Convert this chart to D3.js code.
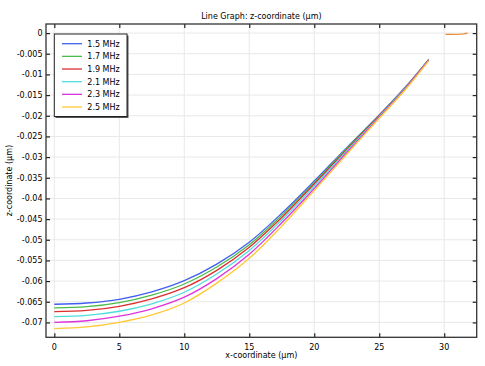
<!DOCTYPE html>
<meta charset="utf-8">
<script src="https://d3js.org/d3.v7.min.js"></script>
<style>
  body { margin: 0; background: #fff; }
  text { font-family: "DejaVu Sans", sans-serif; font-size: 8px; fill: #000; }
</style>
<div id="chart"></div>
<script>

// x positions along the line (µm)
const xs = [0, 2.5, 5, 7.5, 10, 12.5, 15, 17.5, 20, 22.5, 25, 27, 28.8];

// z-coordinate (µm) for each frequency
const z15 = [-0.0656, -0.0653, -0.0644, -0.0626, -0.0599, -0.0559, -0.0506, -0.0436, -0.0358, -0.0277, -0.0198, -0.0131, -0.0064];
const z17 = [-0.0665, -0.0662, -0.0652, -0.0634, -0.0607, -0.0566, -0.0512, -0.0441, -0.0362, -0.0279, -0.0199, -0.0132, -0.0064];
const z19 = [-0.0674, -0.0671, -0.0661, -0.0643, -0.0616, -0.0574, -0.0518, -0.0446, -0.0365, -0.0282, -0.0200, -0.0133, -0.0065];
const z21 = [-0.0686, -0.0683, -0.0673, -0.0655, -0.0627, -0.0583, -0.0526, -0.0452, -0.0370, -0.0285, -0.0202, -0.0134, -0.0066];
const z23 = [-0.0700, -0.0696, -0.0685, -0.0667, -0.0639, -0.0594, -0.0535, -0.0459, -0.0376, -0.0289, -0.0204, -0.0135, -0.0066];
const z25 = [-0.0715, -0.0711, -0.0700, -0.0682, -0.0653, -0.0605, -0.0545, -0.0467, -0.0381, -0.0293, -0.0206, -0.0137, -0.0067];

// short segment near the top right
const tipX = [30.1, 30.6, 31.2, 31.5, 31.8];
const tipZ = [-0.0003, -0.0003, -0.00025, -0.0002, 0.0];

const labels = ["1.5 MHz", "1.7 MHz", "1.9 MHz", "2.1 MHz", "2.3 MHz", "2.5 MHz"];
const colors = ["#3f5ff0", "#4cbb4c", "#dd2f2f", "#4fdede", "#dd35dd", "#ffc933"];
const seriesZ = [z15, z17, z19, z21, z23, z25];

const xTicks = [0, 5, 10, 15, 20, 25, 30];
const yTicks = [0, -0.005, -0.01, -0.015, -0.02, -0.025, -0.03, -0.035, -0.04, -0.045, -0.05, -0.055, -0.06, -0.065, -0.07];

const W = 485, H = 366;
const L = 46, R = 476.7, T = 24, B = 337.3;

const svg = d3.select("#chart").append("svg")
  .attr("width", W).attr("height", H);

const x = d3.scaleLinear().domain([-0.64, 32.5]).range([L, R]);
const y = d3.scaleLinear().domain([-0.0736, 0.0022]).range([B, T]);

// grid
const grid = svg.append("g").attr("stroke", "#e8e8e8").attr("stroke-width", 1);
grid.selectAll(".gx").data(xTicks).join("line")
  .attr("x1", d => x(d)).attr("x2", d => x(d)).attr("y1", T).attr("y2", B);
grid.selectAll(".gy").data(yTicks).join("line")
  .attr("x1", L).attr("x2", R).attr("y1", d => y(d)).attr("y2", d => y(d));

// axes with inward ticks on all sides
const fmt = d => d === 0 ? "0" : String(+d.toFixed(3));
svg.append("g").attr("transform", `translate(0,${B})`)
  .call(d3.axisTop(x).tickValues(xTicks).tickSize(4).tickFormat(""));
svg.append("g").attr("transform", `translate(0,${T})`)
  .call(d3.axisBottom(x).tickValues(xTicks).tickSize(4).tickFormat(""));
svg.append("g").attr("transform", `translate(${L},0)`)
  .call(d3.axisRight(y).tickValues(yTicks).tickSize(4).tickFormat(""));
svg.append("g").attr("transform", `translate(${R},0)`)
  .call(d3.axisLeft(y).tickValues(yTicks).tickSize(4).tickFormat(""));
svg.selectAll(".domain").remove();
svg.selectAll(".tick line").attr("stroke", "#222").attr("stroke-width", 1.2);

// tick labels
svg.selectAll(".xl").data(xTicks).join("text")
  .attr("x", d => x(d)).attr("y", 349.5)
  .attr("text-anchor", "middle").text(d => d);
svg.selectAll(".yl").data(yTicks).join("text")
  .attr("x", 42.5).attr("y", d => y(d) + 3)
  .attr("text-anchor", "end").text(fmt);

// lines
const line = d3.line().x(d => x(d[0])).y(d => y(d[1]));
seriesZ.forEach((zs, i) => {
  svg.append("path")
    .datum(xs.map((v, j) => [v, zs[j]]))
    .attr("d", line.curve(d3.curveCatmullRom.alpha(0.5)))
    .attr("fill", "none")
    .attr("stroke", colors[i])
    .attr("stroke-width", 1.3);
});
svg.append("path")
  .datum(tipX.map((v, j) => [v, tipZ[j]]))
  .attr("d", line.curve(d3.curveLinear))
  .attr("fill", "none")
  .attr("stroke", "#e88a2a")
  .attr("stroke-width", 1.3);

// frame
svg.append("rect")
  .attr("x", L).attr("y", T).attr("width", R - L).attr("height", B - T)
  .attr("fill", "none").attr("stroke", "#333").attr("stroke-width", 1.3);

// legend
const lg = svg.append("g");
lg.append("rect").attr("x", 55.5).attr("y", 35.5).attr("width", 73).attr("height", 82.5)
  .attr("fill", "#555");
lg.append("rect").attr("x", 54.3).attr("y", 34).attr("width", 72.7).attr("height", 82.5)
  .attr("fill", "#fff").attr("stroke", "#222").attr("stroke-width", 1);
labels.forEach((t, i) => {
  const cy = 43.7 + i * 12.66;
  lg.append("line").attr("x1", 62).attr("x2", 82).attr("y1", cy).attr("y2", cy)
    .attr("stroke", colors[i]).attr("stroke-width", 1.3);
  lg.append("text").attr("x", 87.3).attr("y", cy + 3).text(t);
});

// titles
svg.append("text").attr("x", (L + R) / 2).attr("y", 18.5)
  .attr("text-anchor", "middle").text("Line Graph: z-coordinate (µm)");
svg.append("text").attr("x", (L + R) / 2).attr("y", 357.5)
  .attr("text-anchor", "middle").text("x-coordinate (µm)");
svg.append("text").attr("transform", `translate(11.5,${(T + B) / 2}) rotate(-90)`)
  .attr("text-anchor", "middle").text("z-coordinate (µm)");

</script>
